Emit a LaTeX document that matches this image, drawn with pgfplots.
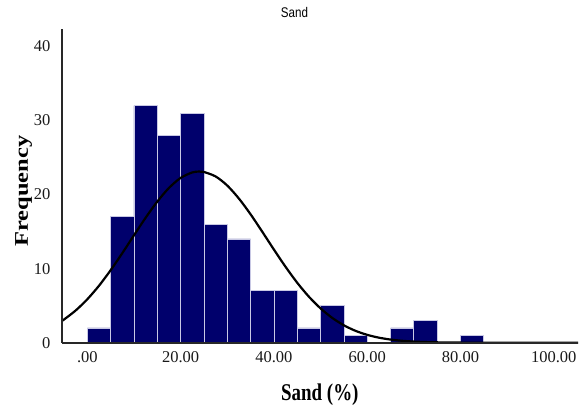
\documentclass[border=0pt]{standalone}
\usepackage{pgfplots}
\pgfplotsset{compat=1.18}
\usepackage{fontspec}
\setmainfont{Liberation Serif}
\newfontfamily\arialfont{Liberation Sans}
\definecolor{barnavy}{RGB}{0,0,108}
\definecolor{baredge}{RGB}{200,200,228}
\definecolor{axisgray}{RGB}{40,40,40}
\begin{document}
\begin{tikzpicture}
\begin{axis}[
  scale only axis,
  width=516.3pt, height=313.4pt,
  xmin=-5.5, xmax=105.2,
  ymin=0, ymax=42.3,
  axis x line=bottom, axis y line=left,
  axis on top,
  every outer x axis line/.append style={-, draw=axisgray, line width=2pt},
  every outer y axis line/.append style={-, draw=axisgray, line width=2pt},
  major tick length=0pt,
  xtick={0,20,40,60,80,100},
  xticklabels={.00,20.00,40.00,60.00,80.00,100.00},
  ytick={0,10,20,30,40},
  /pgf/number format/assume math mode=true,
  tick label style={font=\fontsize{16.5}{16.5}\selectfont, text=black!90},
  xticklabel style={inner sep=0pt, yshift=-9pt},
  yticklabel style={inner sep=0pt, xshift=-11pt},
  xlabel={\scalebox{0.79}[1]{\fontsize{24}{24}\selectfont\bfseries Sand (\%)}},
  xlabel style={at={(axis description cs:0.5,-0.1844)}, anchor=base},
  ylabel={\scalebox{1}[0.79]{\fontsize{24.5}{24.5}\selectfont\bfseries Frequency}},
  ylabel style={at={(axis description cs:-0.0735,0.484)}, anchor=center},
  title={\scalebox{0.83}[1]{\arialfont\fontsize{14}{14}\selectfont Sand}},
  title style={at={(axis description cs:0.451,1.019)}, anchor=base},
  clip=false,
]
\addplot[ybar interval, fill=barnavy, draw=baredge, line width=0.7pt]
  coordinates {
  (0,2) (5,17) (10,32) (15,28) (20,31) (25,16) (30,14) (35,7) (40,7)
  (45,2) (50,5) (55,1) (60,0) (65,2) (70,3) (75,0) (80,1) (85,0)
  };
\addplot[black, line width=2.2pt, smooth, no marks] coordinates {
  (-5.5,2.92) (-5,3.13) (-2.5,4.35) (0,5.87) (2.5,7.69) (5,9.79) (7.5,12.09)
  (10,14.50) (12.5,16.87) (15,19.05) (17.5,20.89) (20,22.24) (22.5,22.98)
  (24,23.10) (25,23.04) (27.5,22.44) (30,21.21) (32.5,19.45) (35,17.33)
  (37.5,14.98) (40,12.57) (42.5,10.24) (45,8.09) (47.5,6.21) (50,4.63)
  (52.5,3.35) (55,2.35) (57.5,1.60) (60,1.06) (62.5,0.68) (65,0.424)
  (67.5,0.257) (70,0.151) (72.5,0.086) (75,0.048) (77.5,0.026) (80,0.013)
  (85,0.003) (90,0.0007) (95,0.0001) (105.2,0)
};
\coordinate (A) at (rel axis cs:0,0);
\coordinate (B) at (rel axis cs:1,1);
\end{axis}
\pgfresetboundingbox
\path[use as bounding box] ([shift={(-61.7pt,-65.3pt)}]A) rectangle ([shift={(9pt,29.3pt)}]B);
\end{tikzpicture}
\end{document}
